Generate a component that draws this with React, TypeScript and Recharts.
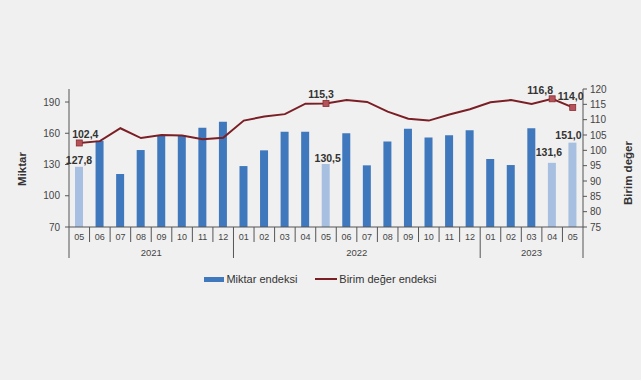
import React from 'react';
import { ComposedChart, Bar, Line, XAxis, YAxis, Legend, Cell, LabelList } from 'recharts';

// periods as year-month
const periods = [
  '2021-05', '2021-06', '2021-07', '2021-08', '2021-09', '2021-10', '2021-11', '2021-12',
  '2022-01', '2022-02', '2022-03', '2022-04', '2022-05', '2022-06', '2022-07', '2022-08',
  '2022-09', '2022-10', '2022-11', '2022-12',
  '2023-01', '2023-02', '2023-03', '2023-04', '2023-05',
];
const miktar = [
  127.8, 152.8, 120.9, 143.9, 157.6, 157.6, 165.3, 171.0,
  128.5, 143.6, 161.5, 161.5, 130.5, 160.0, 129.2, 152.2, 164.3, 156.0, 158.0, 163.0,
  135.3, 129.5, 164.7, 131.6, 151.0,
];
const birimDeger = [
  102.4, 103.0, 107.2, 104.0, 105.0, 104.8, 103.6, 104.1,
  109.7, 111.0, 111.8, 115.2, 115.3, 116.4, 115.8, 112.6, 110.3, 109.7, 111.7, 113.4,
  115.7, 116.4, 115.1, 116.8, 114.0,
];
// periods whose values are written on the chart (bars drawn lighter)
const labelled = ['2021-05', '2022-05', '2023-04', '2023-05'];
const leftTicks = [70, 100, 130, 160, 190];
const rightTicks = [75, 80, 85, 90, 95, 100, 105, 110, 115, 120];

const data = periods.map((p, i) => ({ period: p, miktar: miktar[i], birim: birimDeger[i] }));

// layout
const W = 641;
const H = 380;
const PLOT_LEFT = 69;
const PLOT_RIGHT = 583;
const PLOT_TOP = 89;
const PLOT_BOTTOM = 227;
const STEP = (PLOT_RIGHT - PLOT_LEFT) / periods.length;
const FONT = '"Liberation Sans", Arial, sans-serif';

const BLUE = '#3f78bd';
const LIGHT_BLUE = '#a7bfe0';
const RED = '#7a1f25';
const AXIS = '#555';

const barLabelShift: Record<string, [number, number]> = {
  '2021-05': [0, -3], '2022-05': [2, -2], '2023-04': [-3, -7], '2023-05': [-4, -4],
};
const lineLabelShift: Record<string, [number, number]> = {
  '2021-05': [6, -5], '2022-05': [-5, -5], '2023-04': [-12, -5], '2023-05': [-2, -7],
};

const fmt = (v: number) => v.toFixed(1).replace('.', ',');

const PeriodTick = ({ x, payload }: any) => {
  const i = payload.index;
  const [yr, mo] = periods[i].split('-');
  const left = x - STEP / 2;
  const firstOfYear = i === 0 || periods[i - 1].slice(0, 4) !== yr;
  const count = periods.filter(p => p.startsWith(yr)).length;
  return (
    <g>
      <line x1={left} x2={left} y1={PLOT_BOTTOM} y2={firstOfYear ? 258 : 242} stroke={AXIS} />
      {i === periods.length - 1 && (
        <line x1={x + STEP / 2} x2={x + STEP / 2} y1={PLOT_BOTTOM} y2={258} stroke={AXIS} />
      )}
      <text x={x} y={240} textAnchor="middle" fontSize={9} fill="#444" fontFamily={FONT}>{mo}</text>
      {firstOfYear && (
        <text x={left + (count * STEP) / 2} y={256} textAnchor="middle" fontSize={9.5} fill="#444" fontFamily={FONT}>
          {yr}
        </text>
      )}
    </g>
  );
};

const AxisTitle = ({ cx, cy, text }: any) => (
  <text
    x={cx}
    y={cy}
    transform={`rotate(-90 ${cx} ${cy})`}
    textAnchor="middle"
    dominantBaseline="central"
    fontSize={11.5}
    fontWeight="bold"
    fill="#333"
    fontFamily={FONT}
  >
    {text}
  </text>
);

const BarValue = (props: any) => {
  const { x, y, width, index } = props;
  const p = periods[index];
  if (!labelled.includes(p)) return null;
  const [dx, dy] = barLabelShift[p];
  return (
    <text x={x + width / 2 + dx} y={y + dy} textAnchor="middle" fontSize={10.5} fontWeight="bold" fill="#333" fontFamily={FONT}>
      {fmt(miktar[index])}
    </text>
  );
};

const LineValue = (props: any) => {
  const { x, y, index } = props;
  const p = periods[index];
  if (!labelled.includes(p)) return null;
  const [dx, dy] = lineLabelShift[p];
  return (
    <text x={x + dx} y={y + dy} textAnchor="middle" fontSize={10.5} fontWeight="bold" fill="#333" fontFamily={FONT}>
      {fmt(birimDeger[index])}
    </text>
  );
};

const SquareDot = (props: any) => {
  const { cx, cy, index } = props;
  if (!labelled.includes(periods[index])) return <g key={`d${index}`} />;
  return <rect key={`d${index}`} x={cx - 3} y={cy - 3} width={6} height={6} fill="#b4545a" stroke="#8a2a30" strokeWidth={0.8} />;
};

const LegendBox = () => (
  <div style={{ display: 'flex', justifyContent: 'center', alignItems: 'center', fontFamily: FONT, fontSize: 11, color: '#333' }}>
    <span style={{ display: 'inline-block', width: 20, height: 5, background: BLUE, marginRight: 2 }} />
    <span style={{ marginRight: 18 }}>Miktar endeksi</span>
    <span style={{ display: 'inline-block', width: 22, height: 2, background: RED, marginRight: 2 }} />
    <span>Birim değer endeksi</span>
  </div>
);

export default function App() {
  return (
    <div style={{ position: 'fixed', left: 0, top: 0, width: W, height: H, background: '#f0f0f0' }}>
      <ComposedChart
        width={W}
        height={H}
        data={data}
        margin={{ top: PLOT_TOP, right: 0, left: 0, bottom: H - PLOT_BOTTOM - 40 }}
        barCategoryGap={0}
      >
        <XAxis
          dataKey="period"
          interval={0}
          height={40}
          tick={<PeriodTick />}
          tickLine={false}
          axisLine={{ stroke: AXIS }}
        />
        <YAxis
          yAxisId="left"
          orientation="left"
          width={PLOT_LEFT}
          domain={[70, 202.5]}
          ticks={leftTicks}
          interval={0}
          allowDataOverflow
          tickSize={4}
          tickMargin={5}
          tick={{ fontSize: 10, fill: '#444', fontFamily: FONT }}
          tickLine={{ stroke: AXIS }}
          axisLine={{ stroke: AXIS }}
          label={<AxisTitle cx={22} cy={169} text="Miktar" />}
        />
        <YAxis
          yAxisId="right"
          orientation="right"
          width={W - PLOT_RIGHT}
          domain={[75, 120]}
          ticks={rightTicks}
          interval={0}
          tickSize={4}
          tickMargin={3}
          tick={{ fontSize: 10, fill: '#444', fontFamily: FONT }}
          tickLine={{ stroke: AXIS }}
          axisLine={{ stroke: AXIS }}
          label={<AxisTitle cx={628} cy={173} text="Birim değer" />}
        />
        <Legend
          layout="horizontal"
          verticalAlign="middle"
          align="center"
          wrapperStyle={{ top: 273, left: 0, width: W }}
          content={<LegendBox />}
        />
        <Bar yAxisId="left" dataKey="miktar" barSize={8} isAnimationActive={false}>
          {data.map(d => (
            <Cell key={d.period} fill={labelled.includes(d.period) ? LIGHT_BLUE : BLUE} />
          ))}
          <LabelList dataKey="miktar" content={<BarValue />} />
        </Bar>
        <Line
          yAxisId="right"
          dataKey="birim"
          type="linear"
          stroke={RED}
          strokeWidth={2}
          dot={SquareDot}
          activeDot={false}
          isAnimationActive={false}
        >
          <LabelList dataKey="birim" content={<LineValue />} />
        </Line>
      </ComposedChart>
    </div>
  );
}
